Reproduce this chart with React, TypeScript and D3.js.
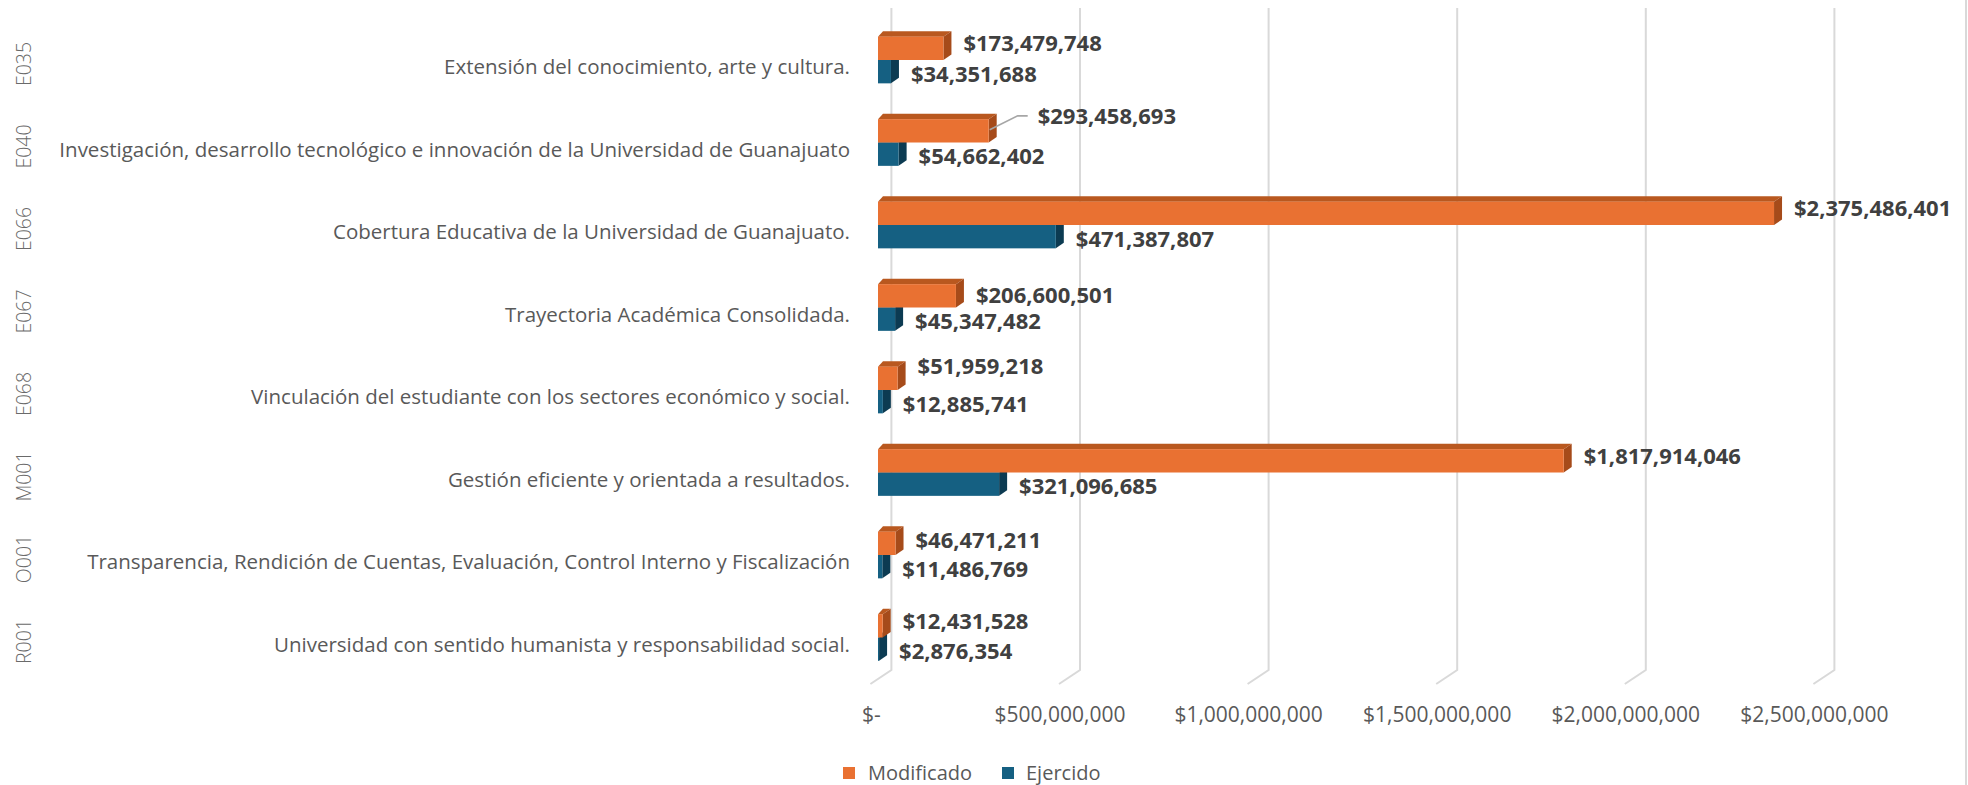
import React from "react";
import * as d3 from "d3";

const categories = ["E035", "E040", "E066", "E067", "E068", "M001", "O001", "R001"];
const categoryNames = [
  "Extensión del conocimiento, arte y cultura.",
  "Investigación, desarrollo tecnológico e innovación de la Universidad de Guanajuato",
  "Cobertura Educativa de la Universidad de Guanajuato.",
  "Trayectoria Académica Consolidada.",
  "Vinculación del estudiante con los sectores económico y social.",
  "Gestión eficiente y orientada a resultados.",
  "Transparencia, Rendición de Cuentas, Evaluación, Control Interno y Fiscalización",
  "Universidad con sentido humanista y responsabilidad social.",
];
const modificado = [173479748, 293458693, 2375486401, 206600501, 51959218, 1817914046, 46471211, 12431528];
const ejercido = [34351688, 54662402, 471387807, 45347482, 12885741, 321096685, 11486769, 2876354];
const seriesNames = ["Modificado", "Ejercido"];
const xTicks = [0, 500000000, 1000000000, 1500000000, 2000000000, 2500000000];

// layout / style
const W = 1968;
const H = 785;
const FRONT_X0 = 878;
const BACK_X0 = 891.4;
const FLOOR_DX = -21;
const FLOOR_DY = 14;
const GRID_TOP = 8;
const GRID_BOTTOM = 670;
const DEPTH_DX_R = 8;
const DEPTH_DX_L = 5;
const DEPTH_DY = -5.5;
const FONT = "'Open Sans', 'Noto Sans', sans-serif";
const TEXT_GRAY = "#595959";
const LABEL_DARK = "#404040";

const colors = {
  Modificado: { front: "#E97132", top: "#B9581F", side: "#A64B1A" },
  Ejercido: { front: "#156082", top: "#0F4A66", side: "#0C3B52" },
};

// label nudges (layout only)
const orangeLabelDy: Record<string, number> = { E067: 4, O001: 2, E068: -7 };
const leaderFor = "E040";

export default function App() {
  const x = d3.scaleLinear().domain([0, 2500000000]).range([0, 943]);
  const y = d3
    .scaleBand<string>()
    .domain(categories)
    .range([18.75, 678.75])
    .paddingInner(0.434)
    .paddingOuter(0.217);
  const sub = d3.scaleBand<string>().domain(seriesNames).range([0, y.bandwidth()]);
  const fmt = d3.format(",");
  const money = (v: number) => "$" + fmt(v);

  const bar = (cat: string, series: "Modificado" | "Ejercido", v: number) => {
    const y0 = (y(cat) as number) + (sub(series) as number);
    const h = sub.bandwidth();
    const x0 = FRONT_X0;
    const x1 = FRONT_X0 + x(v);
    const c = colors[series];
    const top = `M${x0},${y0} L${x1},${y0} L${x1 + DEPTH_DX_R},${y0 + DEPTH_DY} L${x0 + DEPTH_DX_L},${y0 + DEPTH_DY} Z`;
    const side = `M${x1},${y0} L${x1 + DEPTH_DX_R},${y0 + DEPTH_DY} L${x1 + DEPTH_DX_R},${y0 + h + DEPTH_DY} L${x1},${y0 + h} Z`;
    return (
      <g key={cat + series}>
        <path d={top} fill={c.top} />
        <path d={side} fill={c.side} />
        <rect x={x0} y={y0} width={x1 - x0} height={h} fill={c.front} />
      </g>
    );
  };

  return (
    <svg
      width={W}
      height={H}
      style={{ position: "absolute", left: 0, top: 0, background: "#fff" }}
      fontFamily={FONT}
    >
      <rect x={0} y={0} width={W} height={H} fill="#ffffff" />
      {/* gridlines (back wall + floor) */}
      {xTicks.map((t) => {
        const gx = BACK_X0 + x(t);
        return (
          <path
            key={"g" + t}
            d={`M${gx},${GRID_TOP} L${gx},${GRID_BOTTOM} L${gx + FLOOR_DX},${GRID_BOTTOM + FLOOR_DY}`}
            fill="none"
            stroke="#D9D9D9"
            strokeWidth={2}
          />
        );
      })}
      {/* tick labels */}
      {xTicks.map((t) => (
        <text
          key={"t" + t}
          x={BACK_X0 + FLOOR_DX + x(t) + 1}
          y={721.5}
          textAnchor="middle"
          fontSize={21}
          fill={TEXT_GRAY}
        >
          {t === 0 ? "$-" : money(t)}
        </text>
      ))}
      {/* category labels */}
      {categories.map((cat, i) => {
        const cy = (y(cat) as number) + y.bandwidth() / 2;
        return (
          <g key={"c" + cat}>
            <text x={850} y={cy + 14} textAnchor="end" fontSize={20.5} fill={TEXT_GRAY}>
              {categoryNames[i]}
            </text>
            <text
              transform={`translate(31,${cy + 4}) rotate(-90)`}
              textAnchor="middle"
              fontSize={19.5}
              fill="#6a6a6a"
              fontWeight={300}
            >
              {cat}
            </text>
          </g>
        );
      })}
      {/* bars */}
      {categories.map((cat, i) => (
        <g key={"b" + cat}>
          {bar(cat, "Ejercido", ejercido[i])}
          {bar(cat, "Modificado", modificado[i])}
        </g>
      ))}
      {/* value labels */}
      {categories.map((cat, i) => {
        const h = sub.bandwidth();
        const oy = (y(cat) as number) + (sub("Modificado") as number) + h / 2;
        const by = (y(cat) as number) + (sub("Ejercido") as number) + h / 2;
        const ox = FRONT_X0 + x(modificado[i]);
        const bx = FRONT_X0 + x(ejercido[i]);
        const fs = 22;
        const base = fs * 0.357;
        if (cat === leaderFor) {
          return (
            <g key={"v" + cat}>
              <path
                d={`M${ox + 1},${oy - 1} L${ox + 29},${oy - 15} L${ox + 39},${oy - 15}`}
                fill="none"
                stroke="#A6A6A6"
                strokeWidth={1.6}
              />
              <text x={ox + 49} y={oy - 15 + base} fontSize={fs} fontWeight={700} fill={LABEL_DARK}>
                {money(modificado[i])}
              </text>
              <text x={bx + 20} y={by + 2 + base} fontSize={fs} fontWeight={700} fill={LABEL_DARK}>
                {money(ejercido[i])}
              </text>
            </g>
          );
        }
        const ody = orangeLabelDy[cat] ?? 0;
        return (
          <g key={"v" + cat}>
            <text x={ox + 20} y={oy - 5 + ody + base} fontSize={fs} fontWeight={700} fill={LABEL_DARK}>
              {money(modificado[i])}
            </text>
            <text x={bx + 20} y={by + 2 + base} fontSize={fs} fontWeight={700} fill={LABEL_DARK}>
              {money(ejercido[i])}
            </text>
          </g>
        );
      })}
      {/* legend */}
      <rect x={843} y={767} width={12} height={12} fill={colors.Modificado.front} />
      <text x={868} y={780} fontSize={20} fill={TEXT_GRAY}>
        {seriesNames[0]}
      </text>
      <rect x={1002} y={767} width={12} height={12} fill={colors.Ejercido.front} />
      <text x={1026} y={780} fontSize={20} fill={TEXT_GRAY}>
        {seriesNames[1]}
      </text>
      {/* chart border (right edge) */}
      <line x1={1966} y1={0} x2={1966} y2={H} stroke="#D9D9D9" strokeWidth={2} />
    </svg>
  );
}
